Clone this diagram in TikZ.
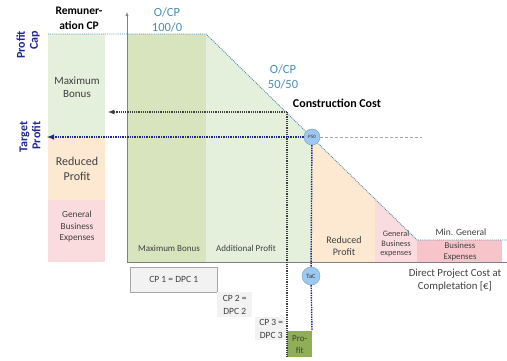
\documentclass[tikz,border=0pt]{standalone}
\usepackage{fontspec}
\setmainfont{Carlito}
\usepackage{tikz}
\usetikzlibrary{positioning,calc,arrows}

\definecolor{lgreen}{HTML}{E4EFDC}
\definecolor{dgreen}{HTML}{D7E4BD}
\definecolor{lorange}{HTML}{FDE9D2}
\definecolor{lpink}{HTML}{FBDCDE}
\definecolor{dpink}{HTML}{F7C5C9}
\definecolor{capblue}{HTML}{4A8DB4}
\definecolor{navy}{HTML}{22288F}
\definecolor{circblue}{HTML}{9DC8F0}
\definecolor{profgreen}{HTML}{8FAE55}

\tikzset{
  capline/.style={capblue,densely dotted,line width=0.9pt},
  blackdots/.style={black!75,densely dotted,line width=1.2pt},
  bluedots/.style={navy,densely dotted,line width=1.4pt},
  cpbox/.style={fill=gray!10,inner sep=1pt,align=center,font=\fontsize{9.5}{13}\selectfont,text=black!75},
  marker/.style={circle,fill=circblue,draw=capblue!80,inner sep=0pt,text=black!80},
  smalltext/.style={align=center,text=black!75}
}

\begin{document}
\begin{tikzpicture}[x=1pt,y=-1pt]
\useasboundingbox (0,0) rectangle (507,360);

\fill[lgreen] (48,34) rectangle (105,138);
\fill[lorange] (48,138) rectangle (105,200);
\fill[lpink] (48,200) rectangle (105,262);

\fill[dgreen] (128,34) rectangle (206,262);
\fill[lgreen] (206,34) -- (312,137.5) -- (312,262) -- (206,262) -- cycle;
\fill[lorange] (312,137.5) -- (375,199) -- (375,262) -- (312,262) -- cycle;
\fill[lpink] (375,199) -- (417,240) -- (417,262) -- (375,262) -- cycle;
\fill[dpink] (417,240) rectangle (502,262);

\coordinate (origin) at (127,262);
\coordinate (ytop) at (127,12);
\coordinate (xend) at (507,262);
\draw[gray,-latex] (origin) -- (ytop);
\draw[gray] (origin) -- (xend);

\coordinate (cap0) at (48,34);
\coordinate (cap1) at (206,34);
\coordinate (min0) at (417,240);
\coordinate (min1) at (507,240);
\draw[capline] (cap0) -- (cap1) -- (min0) -- (min1);

\node[font=\bfseries\fontsize{11.5}{15}\selectfont,align=center] (remun) at (79,18) {Remuner-\\ation CP};
\node[font=\bfseries\fontsize{12}{13}\selectfont,text=navy,align=right,rotate=90] (pcap) at (28,45) {Profit\\Cap};
\node[font=\bfseries\fontsize{12}{13}\selectfont,text=navy,align=right,rotate=90] (tprofit) at (30,137) {Target\\Profit};

\node[smalltext,font=\fontsize{11}{13}\selectfont] (lbonus) at (77,87) {Maximum\\Bonus};
\node[smalltext,font=\fontsize{12}{15}\selectfont] (lreduced) at (77,169) {Reduced\\Profit};
\node[smalltext,font=\fontsize{9.3}{11.5}\selectfont] (lgbe) at (77,227) {General\\Business\\Expenses};

\node[font=\fontsize{12.5}{15}\selectfont,text=capblue,align=center] (ocp1) at (167,20) {O/CP\\100/0};
\node[font=\fontsize{12.5}{15}\selectfont,text=capblue,align=center] (ocp2) at (283,77) {O/CP\\50/50};
\node[font=\bfseries\fontsize{12}{14}\selectfont] (ccost) at (337,103) {Construction Cost};

\node[smalltext,font=\fontsize{9}{10}\selectfont] (maxbonus) at (169,248) {Maximum Bonus};
\node[smalltext,font=\fontsize{9}{10}\selectfont] (addprofit) at (246,248) {Additional Profit};
\node[smalltext,font=\fontsize{10}{12}\selectfont] (redprofit) at (344,246) {Reduced\\Profit};
\node[smalltext,font=\fontsize{8.3}{9.5}\selectfont] (gbe) at (396,244) {General\\Business\\expenses};
\node[smalltext,font=\fontsize{9.5}{11}\selectfont] (mingen) at (461,232) {Min. General};
\node[smalltext,font=\fontsize{8.8}{11}\selectfont] (minbe) at (460,251.5) {Business\\Expenses};
\node[smalltext,font=\fontsize{10.8}{13}\selectfont] (dpc) at (455,280) {Direct Project Cost at\\Completation [€]};

\node[cpbox,draw=gray!70,minimum width=87pt,minimum height=25pt,anchor=north west] (cp1) at (130,267) {CP 1 = DPC 1};
\node[cpbox,minimum width=35pt,minimum height=25pt,anchor=north west] (cp2) at (217,292) {CP 2 =\\DPC 2};
\node[cpbox,minimum width=32pt,minimum height=23pt,anchor=north west] (cp3) at (255,317) {CP 3 =\\DPC 3};
\node[cpbox,fill=profgreen,minimum width=25pt,minimum height=26pt,anchor=north west,font=\fontsize{9}{12}\selectfont] (profit) at (287,331) {Pro-\\fit};

\coordinate (cc) at (287,112);
\coordinate (bonusend) at (108,112);
\coordinate (ccend) at (287,357);
\draw[blackdots,-latex] (cc) -- (bonusend);
\draw[blackdots] (cc) -- (ccend);

\node[marker,minimum size=16pt,font=\fontsize{5}{5}\selectfont] (p50) at (312,137) {P50};
\node[marker,minimum size=18pt,font=\fontsize{6.5}{6.5}\selectfont] (tac) at (311,276) {TaC};
\coordinate (target) at (47,137);
\coordinate (p50end) at (422,137);
\coordinate (tacend) at (312,331);
\draw[bluedots,-latex] (p50) -- (target);
\draw[bluedots] (p50) -- (tac);
\draw[bluedots] (tac) -- (tacend);
\draw[gray!70,densely dashed,line width=0.5pt] (p50) -- (p50end);

\end{tikzpicture}
\end{document}
